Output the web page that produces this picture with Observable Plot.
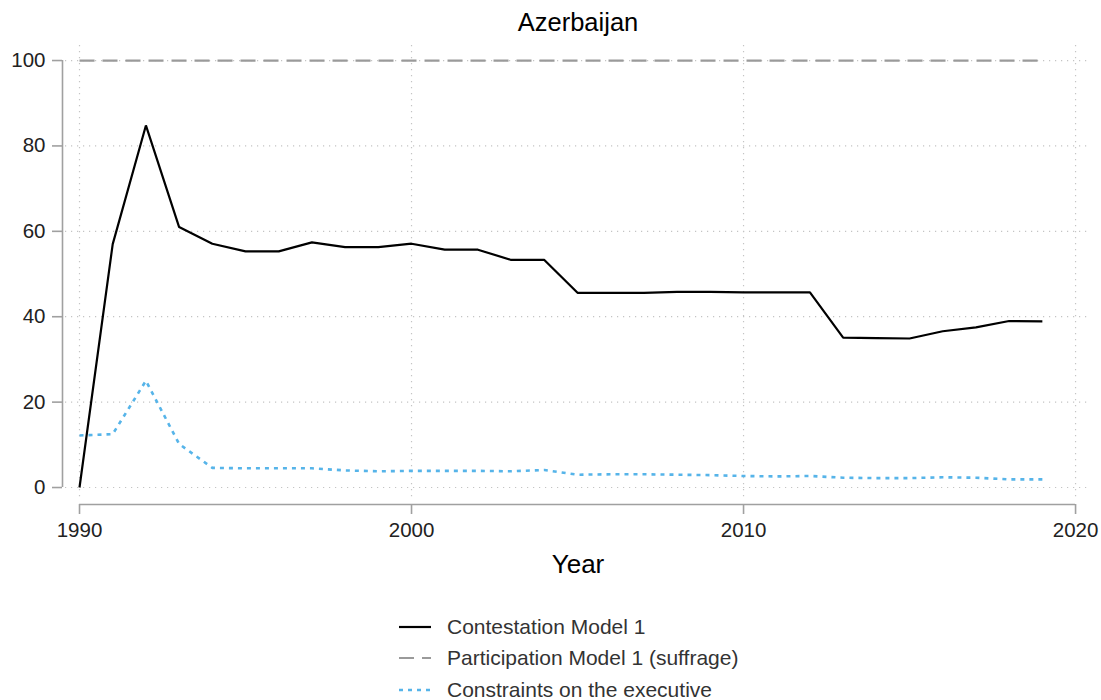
<!DOCTYPE html>
<html>
<head>
<meta charset="utf-8">
<script src="https://cdn.jsdelivr.net/npm/d3@7"></script>
<script src="https://cdn.jsdelivr.net/npm/@observablehq/plot@0.6"></script>
<style>
  html, body { margin: 0; padding: 0; background: #fff; }
  #wrap { position: relative; width: 1101px; height: 700px; font-family: "Liberation Sans", Arial, Helvetica, sans-serif; }
  #legend { position: absolute; left: 398px; top: 611px; }
  .row { display: flex; align-items: center; height: 31.5px; }
  .row svg { display: block; }
  .row span { margin-left: 16px; font-size: 21px; color: #333; }
</style>
</head>
<body>
<div id="wrap"><div id="chart"></div><div id="legend"></div></div>
<script>
const title = "Azerbaijan";
const xLabel = "Year";
const years = [1990,1991,1992,1993,1994,1995,1996,1997,1998,1999,2000,2001,2002,2003,2004,2005,2006,2007,2008,2009,2010,2011,2012,2013,2014,2015,2016,2017,2018,2019];
const contestation = [0,57.0,84.8,61.0,57.1,55.3,55.3,57.4,56.3,56.3,57.1,55.7,55.7,53.3,53.3,45.6,45.6,45.6,45.8,45.8,45.7,45.7,45.7,35.1,35.0,34.9,36.6,37.5,39.0,38.9];
const participation = [100,100,100,100,100,100,100,100,100,100,100,100,100,100,100,100,100,100,100,100,100,100,100,100,100,100,100,100,100,100];
const constraints = [12.2,12.5,25.0,10.2,4.6,4.5,4.5,4.5,4.0,3.8,3.9,3.9,3.9,3.8,4.1,3.0,3.1,3.1,3.0,2.9,2.7,2.6,2.7,2.3,2.2,2.2,2.4,2.3,1.9,1.9];
const seriesNames = ["Contestation Model 1", "Participation Model 1 (suffrage)", "Constraints on the executive"];
const seriesColors = ["#000000", "#9a9a9a", "#56b4e9"];
const seriesDash = [null, "15,8", "4,5"];
const seriesWidth = [2.2, 2.2, 2.6];
const xTicks = [1990, 2000, 2010, 2020];
const yTicks = [0, 20, 40, 60, 80, 100];

const seriesValues = [contestation, participation, constraints];
const tables = seriesValues.map((vals, i) => years.map((yr, j) => ({year: yr, value: vals[j], series: seriesNames[i]})));

const xDomain = [1989.578, 2020.45];
const yDomain = [-3.04, 103.52];
const axisGray = "#a0a0a0";
const gridStyle = {stroke: "#c4c4c4", strokeOpacity: 1, strokeWidth: 1.2, strokeDasharray: "1.2,4.8"};

const chart = Plot.plot({
  width: 1101,
  height: 590,
  marginLeft: 65,
  marginRight: 11,
  marginTop: 45,
  marginBottom: 90,
  style: {fontFamily: "'Liberation Sans', Arial, Helvetica, sans-serif", background: "#fff"},
  x: {domain: xDomain},
  y: {domain: yDomain},
  marks: [
    Plot.gridY(yTicks, gridStyle),
    Plot.gridX(xTicks, gridStyle),
    Plot.ruleX([xDomain[0]], {y1: d3.min(yTicks), y2: d3.max(yTicks), dx: -3, stroke: axisGray, strokeWidth: 1.6}),
    Plot.ruleY([yDomain[0]], {x1: d3.min(xTicks), x2: d3.max(xTicks), dy: 4, stroke: axisGray, strokeWidth: 1.6}),
    Plot.axisY(yTicks, {anchor: "left", tickSize: 10, tickPadding: 7, dx: -3, fontSize: 20.5, stroke: axisGray, strokeWidth: 1.6, fill: "#222", label: null, tickFormat: d => String(d)}),
    Plot.axisX(xTicks, {anchor: "bottom", tickSize: 10, tickPadding: 8, dy: 4, fontSize: 20.5, stroke: axisGray, strokeWidth: 1.6, fill: "#222", label: null, tickFormat: d => String(d)}),
    ...tables.map((t, i) => Plot.line(t, {x: "year", y: "value", stroke: seriesColors[i], strokeWidth: seriesWidth[i], strokeDasharray: seriesDash[i], strokeLinejoin: "miter", strokeLinecap: "butt"})),
    Plot.text([title], {frameAnchor: "top", lineAnchor: "bottom", dy: -14.5, fontSize: 25.5, fill: "#000"}),
    Plot.text([xLabel], {frameAnchor: "bottom", lineAnchor: "bottom", dy: 72, fontSize: 26, fill: "#000"})
  ]
});
document.getElementById("chart").appendChild(chart);

const legend = document.getElementById("legend");
seriesNames.forEach((name, i) => {
  const row = document.createElement("div");
  row.className = "row";
  const ns = "http://www.w3.org/2000/svg";
  const svg = document.createElementNS(ns, "svg");
  svg.setAttribute("width", 33);
  svg.setAttribute("height", 20);
  const ln = document.createElementNS(ns, "line");
  ln.setAttribute("x1", 1); ln.setAttribute("x2", 33);
  ln.setAttribute("y1", 10); ln.setAttribute("y2", 10);
  ln.setAttribute("stroke", seriesColors[i]);
  ln.setAttribute("stroke-width", seriesWidth[i]);
  if (seriesDash[i]) ln.setAttribute("stroke-dasharray", seriesDash[i]);
  svg.appendChild(ln);
  const span = document.createElement("span");
  span.textContent = name;
  row.appendChild(svg);
  row.appendChild(span);
  legend.appendChild(row);
});
</script>
</body>
</html>
